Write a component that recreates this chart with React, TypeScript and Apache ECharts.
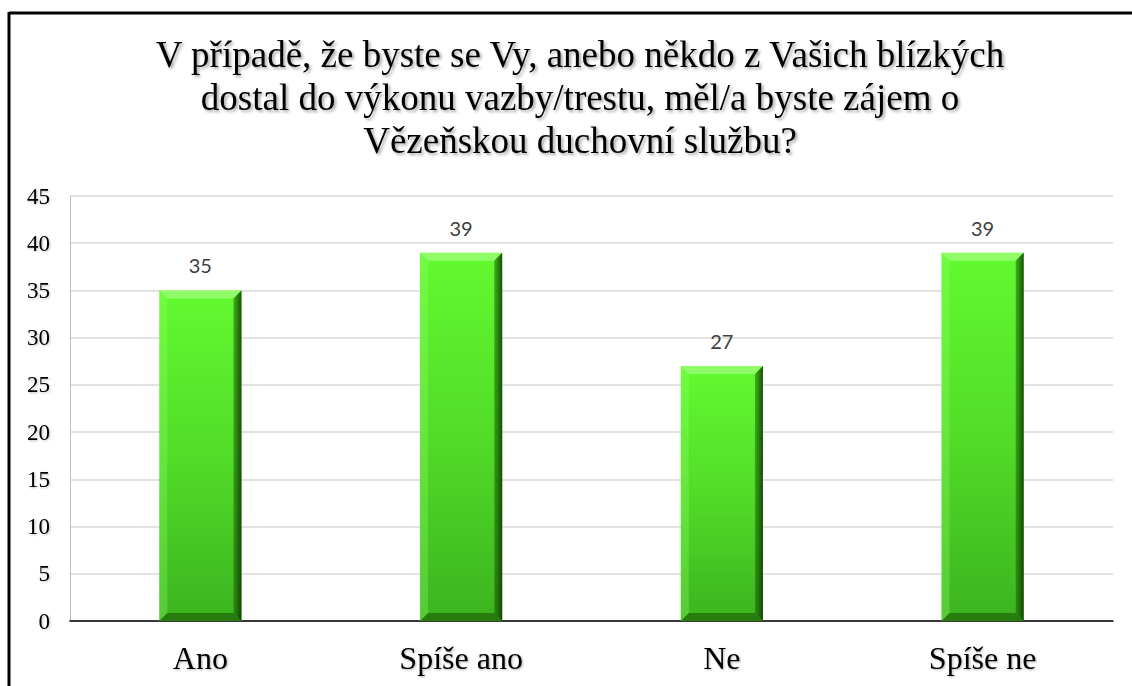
import React, { useEffect, useRef } from "react";
import * as echarts from "echarts";

const categories = ["Ano", "Spíše ano", "Ne", "Spíše ne"];
const values = [35, 39, 27, 39];
const yTicks = [0, 5, 10, 15, 20, 25, 30, 35, 40, 45];
const titleLines = [
  "V případě, že byste se Vy, anebo někdo z Vašich blízkých",
  "dostal do výkonu vazby/trestu, měl/a byste zájem o",
  "Vězeňskou duchovní službu?",
];

export default function App() {
  const ref = useRef<HTMLDivElement>(null);
  useEffect(() => {
    document.body.style.margin = "0";
    const chart = echarts.init(ref.current!, null, { renderer: "svg" });
    const serif = "'Liberation Serif', 'Times New Roman', serif";
    chart.setOption({
      animation: false,
      backgroundColor: "#ffffff",
      title: {
        text: titleLines.join("\n"),
        left: 575,
        textAlign: "center",
        top: 28,
        textStyle: {
          fontFamily: serif,
          fontSize: 37,
          fontWeight: "normal",
          color: "#000",
          lineHeight: 43,
          textShadowColor: "rgba(0,0,0,0.35)",
          textShadowBlur: 3,
          textShadowOffsetX: 2,
          textShadowOffsetY: 2,
        },
      },
      graphic: [
        { type: "line", shape: { x1: 9, y1: 13, x2: 1132, y2: 13 }, style: { stroke: "#000", lineWidth: 3 } },
        { type: "line", shape: { x1: 9, y1: 12, x2: 9, y2: 686 }, style: { stroke: "#000", lineWidth: 3 } },
      ],
      grid: { left: 70, right: 19, top: 196, bottom: 65, containLabel: false },
      xAxis: {
        type: "category",
        data: categories,
        axisLine: { lineStyle: { color: "#000", width: 1.5 } },
        axisTick: { show: false },
        axisLabel: {
          fontFamily: serif,
          fontSize: 32,
          color: "#000",
          margin: 21,
          textShadowColor: "rgba(0,0,0,0.3)",
          textShadowBlur: 2,
          textShadowOffsetX: 1,
          textShadowOffsetY: 1,
        },
      },
      yAxis: {
        type: "value",
        min: yTicks[0],
        max: yTicks[yTicks.length - 1],
        interval: 5,
        axisLine: { show: true, lineStyle: { color: "#bfbfbf", width: 1 } },
        axisTick: { show: false },
        splitLine: { lineStyle: { color: "#d9d9d9", width: 1.5 } },
        axisLabel: {
          fontFamily: serif,
          fontSize: 23,
          color: "#000",
          margin: 20,
          textShadowColor: "rgba(0,0,0,0.25)",
          textShadowBlur: 2,
          textShadowOffsetX: 1,
          textShadowOffsetY: 1,
        },
      },
      series: [
        {
          type: "custom",
          data: values.map((v, i) => [i, v]),
          encode: { x: 0, y: 1 },
          z: 3,
          renderItem: (params: any, api: any) => {
            const idx = api.value(0);
            const val = api.value(1);
            const top = api.coord([idx, val]);
            const base = api.coord([idx, 0]);
            const bw = api.size([1, 0])[0] * 0.315;
            const x0 = top[0] - bw / 2;
            const x1 = top[0] + bw / 2;
            const y0 = top[1];
            const y1 = base[1];
            const b = 8;
            return {
              type: "group",
              children: [
                {
                  type: "rect",
                  shape: { x: x0, y: y0, width: bw, height: y1 - y0 },
                  style: {
                    fill: new echarts.graphic.LinearGradient(0, 0, 0, 1, [
                      { offset: 0, color: "#62fa30" },
                      { offset: 0.5, color: "#52dc28" },
                      { offset: 1, color: "#3cb31f" },
                    ]),
                  },
                },
                {
                  type: "polygon",
                  shape: { points: [[x0, y0], [x1, y0], [x1 - b, y0 + b], [x0 + b, y0 + b]] },
                  style: { fill: "rgba(190,255,160,0.5)" },
                },
                {
                  type: "polygon",
                  shape: { points: [[x0, y0], [x0 + b, y0 + b], [x0 + b, y1 - b], [x0, y1]] },
                  style: { fill: "rgba(150,255,110,0.3)" },
                },
                {
                  type: "polygon",
                  shape: { points: [[x1, y0], [x1, y1], [x1 - b, y1 - b], [x1 - b, y0 + b]] },
                  style: {
                    fill: new echarts.graphic.LinearGradient(0, 0, 1, 0, [
                      { offset: 0, color: "rgba(20,90,0,0.45)" },
                      { offset: 1, color: "rgba(10,50,0,0.85)" },
                    ]),
                  },
                },
                {
                  type: "polygon",
                  shape: { points: [[x0, y1], [x1, y1], [x1 - b, y1 - b], [x0 + b, y1 - b]] },
                  style: { fill: "rgba(20,80,0,0.55)" },
                },
                {
                  type: "text",
                  style: {
                    text: String(val),
                    x: top[0],
                    y: y0 - 25,
                    align: "center",
                    verticalAlign: "middle",
                    fontFamily: "Lato, 'Open Sans', sans-serif",
                    fontSize: 20,
                    fill: "#404040",
                  },
                },
              ],
            };
          },
        },
      ],
    });
    return () => chart.dispose();
  }, []);
  return <div ref={ref} style={{ width: 1132, height: 686 }} />;
}
